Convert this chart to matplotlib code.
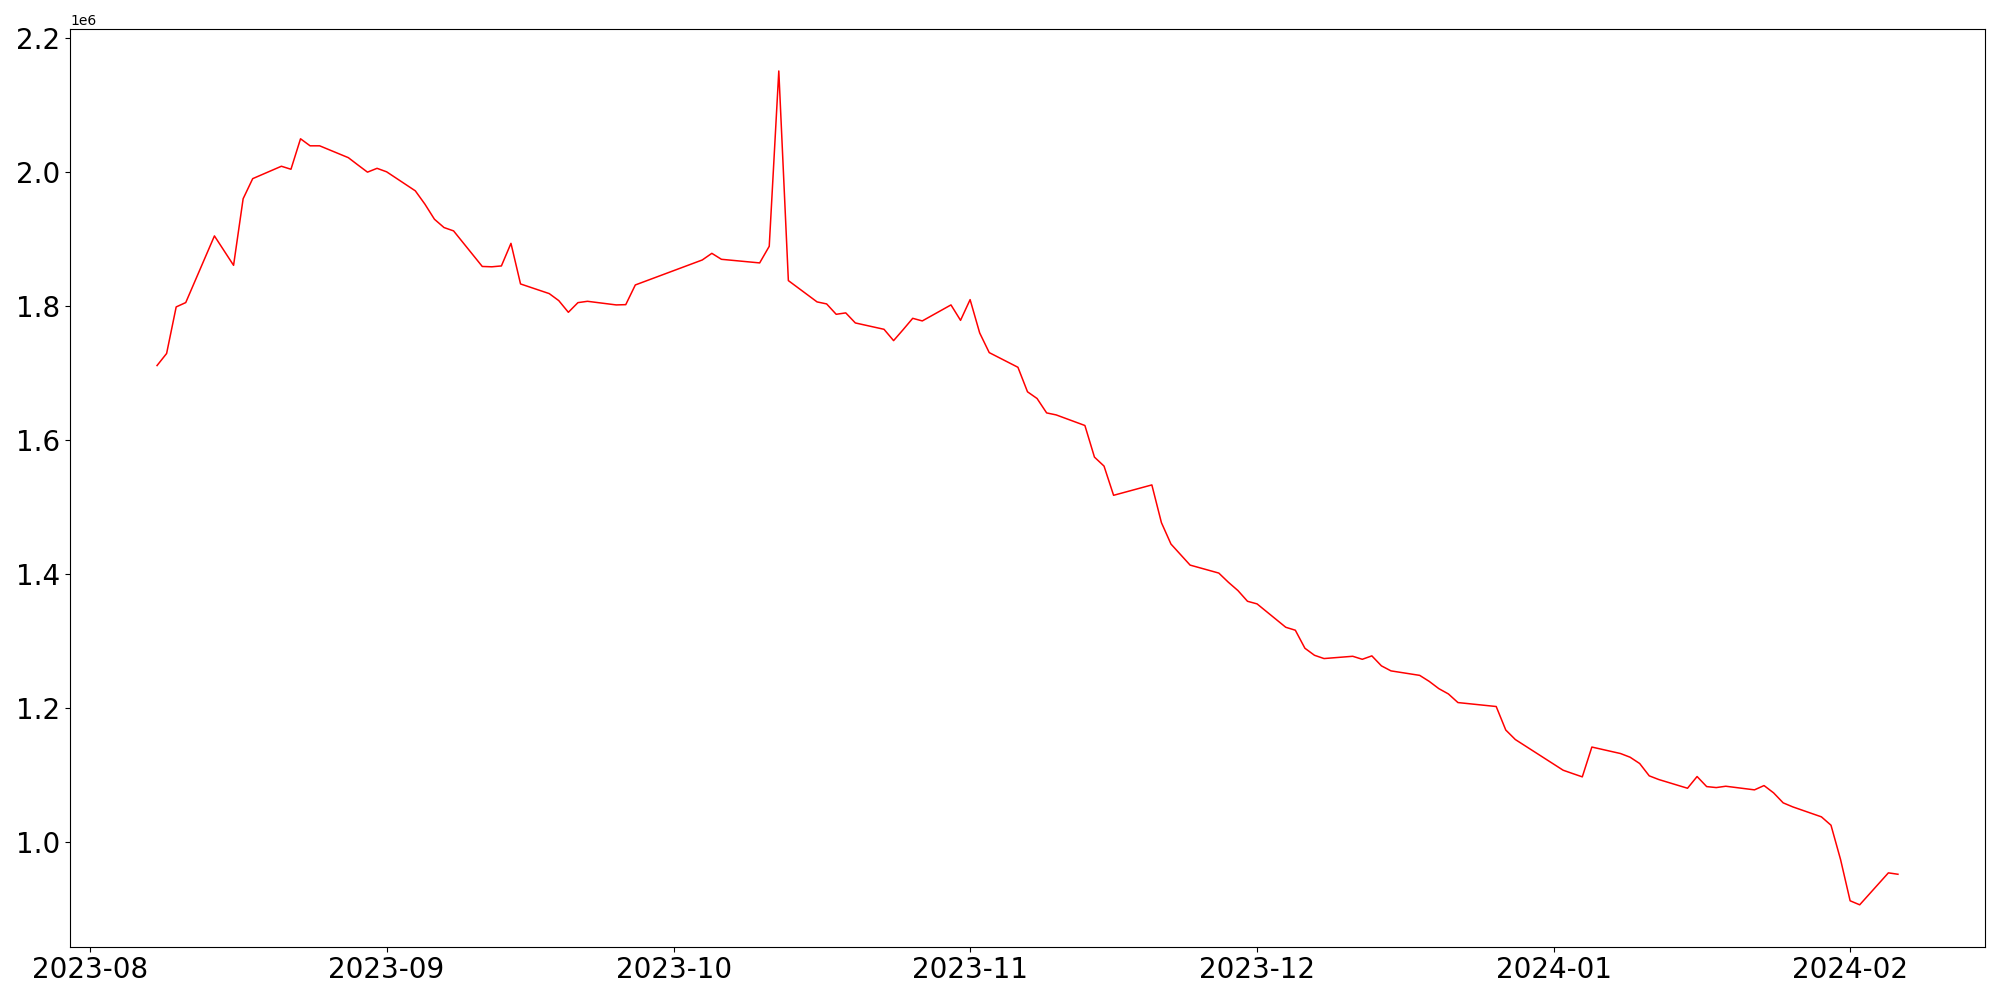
import numpy as np
import pandas as pd
import matplotlib
matplotlib.use("Agg")
import matplotlib.pyplot as plt

# trading days (weekends / holidays skipped)
dates = [
    "2023-08-08", "2023-08-09", "2023-08-10", "2023-08-11", "2023-08-14", "2023-08-16",
    "2023-08-17", "2023-08-18", "2023-08-21", "2023-08-22", "2023-08-23", "2023-08-24",
    "2023-08-25", "2023-08-28", "2023-08-29", "2023-08-30", "2023-08-31", "2023-09-01",
    "2023-09-04", "2023-09-05", "2023-09-06", "2023-09-07", "2023-09-08", "2023-09-11",
    "2023-09-12", "2023-09-13", "2023-09-14", "2023-09-15", "2023-09-18", "2023-09-19",
    "2023-09-20", "2023-09-21", "2023-09-22", "2023-09-25", "2023-09-26", "2023-09-27",
    "2023-10-04", "2023-10-05", "2023-10-06", "2023-10-10", "2023-10-11", "2023-10-12",
    "2023-10-13", "2023-10-16", "2023-10-17", "2023-10-18", "2023-10-19", "2023-10-20",
    "2023-10-23", "2023-10-24", "2023-10-25", "2023-10-26", "2023-10-27", "2023-10-30",
    "2023-10-31", "2023-11-01", "2023-11-02", "2023-11-03", "2023-11-06", "2023-11-07",
    "2023-11-08", "2023-11-09", "2023-11-10", "2023-11-13", "2023-11-14", "2023-11-15",
    "2023-11-16", "2023-11-20", "2023-11-21", "2023-11-22", "2023-11-23", "2023-11-24",
    "2023-11-27", "2023-11-28", "2023-11-29", "2023-11-30", "2023-12-01", "2023-12-04",
    "2023-12-05", "2023-12-06", "2023-12-07", "2023-12-08", "2023-12-11", "2023-12-12",
    "2023-12-13", "2023-12-14", "2023-12-15", "2023-12-18", "2023-12-19", "2023-12-20",
    "2023-12-21", "2023-12-22", "2023-12-26", "2023-12-27", "2023-12-28", "2024-01-02",
    "2024-01-03", "2024-01-04", "2024-01-05", "2024-01-08", "2024-01-09", "2024-01-10",
    "2024-01-11", "2024-01-12", "2024-01-15", "2024-01-16", "2024-01-17", "2024-01-18",
    "2024-01-19", "2024-01-22", "2024-01-23", "2024-01-24", "2024-01-25", "2024-01-26",
    "2024-01-29", "2024-01-30", "2024-01-31", "2024-02-01", "2024-02-02", "2024-02-05",
    "2024-02-06",
]

values = [
    1711000, 1729000, 1798500, 1805000, 1904500, 1860600,
    1960000, 1990000, 2008500, 2004000, 2049500, 2039000,
    2039000, 2021300, 2010400, 1999700, 2005400, 2000200,
    1971800, 1952000, 1929400, 1917000, 1912000, 1858900,
    1858400, 1859700, 1893400, 1832800, 1818400, 1807900,
    1790500, 1804900, 1806900, 1801500, 1801900, 1831300,
    1868600, 1878500, 1869600, 1864200, 1889000, 2150700,
    1837800, 1806000, 1803000, 1787500, 1789600, 1774600,
    1765100, 1748200, 1764600, 1781500, 1777600, 1801500,
    1778500, 1809400, 1759700, 1730300, 1708400, 1671800,
    1661800, 1640300, 1637300, 1621500, 1574300, 1560900,
    1517300, 1532800, 1476500, 1444500, 1428800, 1413100,
    1401200, 1387500, 1375100, 1359100, 1355200, 1320300,
    1315900, 1289000, 1278500, 1273600, 1277000, 1272500,
    1277600, 1262700, 1255200, 1248500, 1239500, 1228700,
    1220800, 1207900, 1202000, 1166900, 1152700, 1106900,
    1101900, 1097000, 1141500, 1131800, 1126300, 1116900,
    1098500, 1093000, 1080000, 1097500, 1082500, 1081000,
    1083000, 1077600, 1084000, 1073100, 1058200, 1052200,
    1037300, 1024800, 973600, 912000, 906000, 953700,
    951600,
]

x = pd.to_datetime(dates)

fig, ax = plt.subplots(figsize=(20, 10), dpi=100)
ax.plot(x, values, color="red", linewidth=1.1)

ax.tick_params(axis="both", labelsize=20)

fig.subplots_adjust(left=0.035, right=0.9925, top=0.9707, bottom=0.0535)
fig.savefig("out.png", dpi=100)
plt.close(fig)
